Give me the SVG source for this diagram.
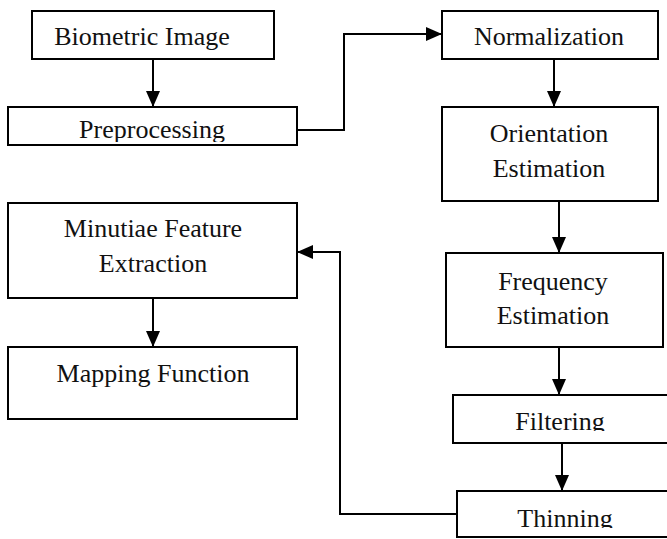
<svg xmlns="http://www.w3.org/2000/svg" width="667" height="539" viewBox="0 0 667 539">
<style>
.box{fill:#fff;stroke:#000;stroke-width:2}
.t{font-family:"Liberation Serif","Times New Roman",serif;font-size:26px;fill:#111;text-anchor:middle}
.c{fill:none;stroke:#000;stroke-width:2}
</style>
<defs>
<marker id="ah" markerUnits="userSpaceOnUse" markerWidth="16" markerHeight="14" refX="16" refY="7" orient="auto">
<path d="M0,0 L16,7 L0,14 z" fill="#000"/>
</marker>
<clipPath id="cpPre"><rect x="8" y="107" width="289" height="35"/></clipPath>
<clipPath id="cpFil"><rect x="453" y="395" width="214" height="36"/></clipPath>
<clipPath id="cpThi"><rect x="457" y="491" width="210" height="37"/></clipPath>
</defs>
<rect width="667" height="539" fill="#fff"/>
<g id="connectors">
<path class="c" d="M153,59 V107" marker-end="url(#ah)"/>
<path class="c" d="M297,130 H344 V34 H442" marker-end="url(#ah)"/>
<path class="c" d="M554,59 V107" marker-end="url(#ah)"/>
<path class="c" d="M559,201 V253" marker-end="url(#ah)"/>
<path class="c" d="M559,347 V395" marker-end="url(#ah)"/>
<path class="c" d="M562,443 V491" marker-end="url(#ah)"/>
<path class="c" d="M457,514 H340 V252 H297" marker-end="url(#ah)"/>
<path class="c" d="M153,298 V347" marker-end="url(#ah)"/>
</g>
<g id="biometric">
<rect class="box" x="32" y="11" width="242" height="48"/>
<text class="t" x="142" y="45">Biometric Image</text>
</g>
<g id="preprocessing">
<rect class="box" x="8" y="107" width="289" height="38"/>
<text class="t" x="152" y="138" clip-path="url(#cpPre)">Preprocessing</text>
</g>
<g id="normalization">
<rect class="box" x="442" y="11" width="216" height="48"/>
<text class="t" x="549" y="45">Normalization</text>
</g>
<g id="orientation">
<rect class="box" x="442" y="107" width="216" height="94"/>
<text class="t" x="549" y="142">Orientation</text>
<text class="t" x="549" y="177">Estimation</text>
</g>
<g id="frequency">
<rect class="box" x="446" y="253" width="217" height="94"/>
<text class="t" x="553" y="290">Frequency</text>
<text class="t" x="553" y="324">Estimation</text>
</g>
<g id="filtering">
<rect class="box" x="453" y="395" width="230" height="48"/>
<text class="t" x="560" y="430" clip-path="url(#cpFil)">Filtering</text>
</g>
<g id="thinning">
<rect class="box" x="457" y="491" width="230" height="46"/>
<text class="t" x="565" y="527" clip-path="url(#cpThi)">Thinning</text>
</g>
<g id="minutiae">
<rect class="box" x="8" y="203" width="289" height="95"/>
<text class="t" x="153" y="237">Minutiae Feature</text>
<text class="t" x="153" y="272">Extraction</text>
</g>
<g id="mapping">
<rect class="box" x="8" y="347" width="289" height="72"/>
<text class="t" x="153" y="382">Mapping Function</text>
</g>
</svg>
